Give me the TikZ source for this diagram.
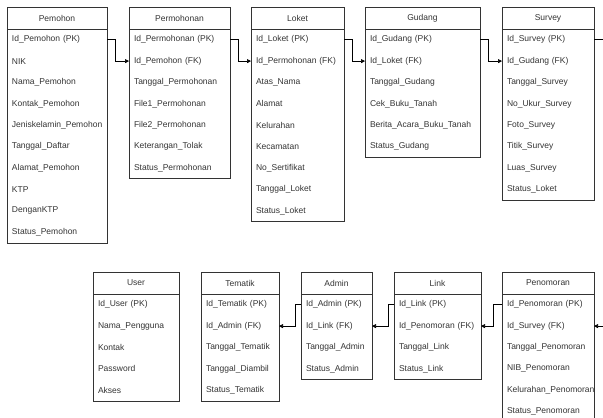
\documentclass[tikz,border=0pt]{standalone}
\usepackage{fontspec}
\setmainfont{Liberation Sans}
\usetikzlibrary{arrows.meta}

\definecolor{linegray}{HTML}{333333}

\begin{document}
\begin{tikzpicture}[x=1pt,y=-1pt,
	head/.style={draw=linegray, line width=0.8pt, anchor=north west, minimum height=22pt, inner sep=0pt, outer sep=0pt, text=linegray, font=\fontsize{8.5}{10}\selectfont},
	row/.style={anchor=north west, minimum height=21.4pt, inner xsep=5pt, inner ysep=0pt, outer sep=0pt, align=left, text=linegray, font=\fontsize{8.5}{10}\selectfont},
	frame/.style={draw=linegray, line width=0.8pt},
	link/.style={draw=black, line width=0.6pt, -{Triangle[length=4pt,width=4pt]}}]

	\useasboundingbox (0,0) rectangle (603,418);

	\node[head, minimum width=100pt] (pemohon) at (7,7) {Pemohon};
	\foreach \field [count=\i] in {Id\_Pemohon (PK), NIK, Nama\_Pemohon, Kontak\_Pemohon, Jeniskelamin\_Pemohon, Tanggal\_Daftar, Alamat\_Pemohon, KTP, DenganKTP, Status\_Pemohon}
		\node[row, text width=90pt] (pemohon-\i) at (7,{29+(\i-1)*21.4}) {\field};
	\draw[frame] (pemohon.south west) rectangle (pemohon-10.south east);

	\node[head, minimum width=101pt] (permohonan) at (129,7) {Permohonan};
	\foreach \field [count=\i] in {Id\_Permohonan (PK), Id\_Pemohon (FK), Tanggal\_Permohonan, File1\_Permohonan, File2\_Permohonan, Keterangan\_Tolak, Status\_Permohonan}
		\node[row, text width=91pt] (permohonan-\i) at (129,{29+(\i-1)*21.4}) {\field};
	\draw[frame] (permohonan.south west) rectangle (permohonan-7.south east);

	\node[head, minimum width=93pt] (loket) at (251,7) {Loket};
	\foreach \field [count=\i] in {Id\_Loket (PK), Id\_Permohonan (FK), Atas\_Nama, Alamat, Kelurahan, Kecamatan, No\_Sertifikat, Tanggal\_Loket, Status\_Loket}
		\node[row, text width=83pt] (loket-\i) at (251,{29+(\i-1)*21.4}) {\field};
	\draw[frame] (loket.south west) rectangle (loket-9.south east);

	\node[head, minimum width=115pt] (gudang) at (365,7) {Gudang};
	\foreach \field [count=\i] in {Id\_Gudang (PK), Id\_Loket (FK), Tanggal\_Gudang, Cek\_Buku\_Tanah, Berita\_Acara\_Buku\_Tanah, Status\_Gudang}
		\node[row, text width=105pt] (gudang-\i) at (365,{29+(\i-1)*21.4}) {\field};
	\draw[frame] (gudang.south west) rectangle (gudang-6.south east);

	\node[head, minimum width=92pt] (survey) at (502,7) {Survey};
	\foreach \field [count=\i] in {Id\_Survey (PK), Id\_Gudang (FK), Tanggal\_Survey, No\_Ukur\_Survey, Foto\_Survey, Titik\_Survey, Luas\_Survey, Status\_Loket}
		\node[row, text width=82pt] (survey-\i) at (502,{29+(\i-1)*21.4}) {\field};
	\draw[frame] (survey.south west) rectangle (survey-8.south east);

	\node[head, minimum width=86pt] (user) at (93,272) {User};
	\foreach \field [count=\i] in {Id\_User (PK), Nama\_Pengguna, Kontak, Password, Akses}
		\node[row, text width=76pt] (user-\i) at (93,{294+(\i-1)*21.4}) {\field};
	\draw[frame] (user.south west) rectangle (user-5.south east);

	\node[head, minimum width=78pt] (tematik) at (201,272) {Tematik};
	\foreach \field [count=\i] in {Id\_Tematik (PK), Id\_Admin (FK), Tanggal\_Tematik, Tanggal\_Diambil, Status\_Tematik}
		\node[row, text width=68pt] (tematik-\i) at (201,{294+(\i-1)*21.4}) {\field};
	\draw[frame] (tematik.south west) rectangle (tematik-5.south east);

	\node[head, minimum width=71pt] (admin) at (301,272) {Admin};
	\foreach \field [count=\i] in {Id\_Admin (PK), Id\_Link (FK), Tanggal\_Admin, Status\_Admin}
		\node[row, text width=61pt] (admin-\i) at (301,{294+(\i-1)*21.4}) {\field};
	\draw[frame] (admin.south west) rectangle (admin-4.south east);

	\node[head, minimum width=87pt] (link) at (394,272) {Link};
	\foreach \field [count=\i] in {Id\_Link (PK), Id\_Penomoran (FK), Tanggal\_Link, Status\_Link}
		\node[row, text width=77pt] (link-\i) at (394,{294+(\i-1)*21.4}) {\field};
	\draw[frame] (link.south west) rectangle (link-4.south east);

	\node[head, minimum width=92pt] (penomoran) at (502,272) {Penomoran};
	\foreach \field [count=\i] in {Id\_Penomoran (PK), Id\_Survey (FK), Tanggal\_Penomoran, NIB\_Penomoran, Kelurahan\_Penomoran, Status\_Penomoran}
		\node[row, text width=82pt] (penomoran-\i) at (502,{294+(\i-1)*21.4}) {\field};
	\draw[frame] (penomoran.south west) rectangle (penomoran-6.south east);

	\draw[link] (pemohon-1.east) -- ++(8,0) |- (permohonan-2.west);
	\draw[link] (permohonan-1.east) -- ++(8,0) |- (loket-2.west);
	\draw[link] (loket-1.east) -- ++(8,0) |- (gudang-2.west);
	\draw[link] (gudang-1.east) -- ++(8,0) |- (survey-2.west);
	\draw[link] (survey-1.east) -- ++(20,0) |- (penomoran-2.east);
	\draw[link] (penomoran-1.west) -- ++(-9,0) |- (link-2.east);
	\draw[link] (link-1.west) -- ++(-6,0) |- (admin-2.east);
	\draw[link] (admin-1.west) -- ++(-6,0) |- (tematik-2.east);

\end{tikzpicture}
\end{document}
